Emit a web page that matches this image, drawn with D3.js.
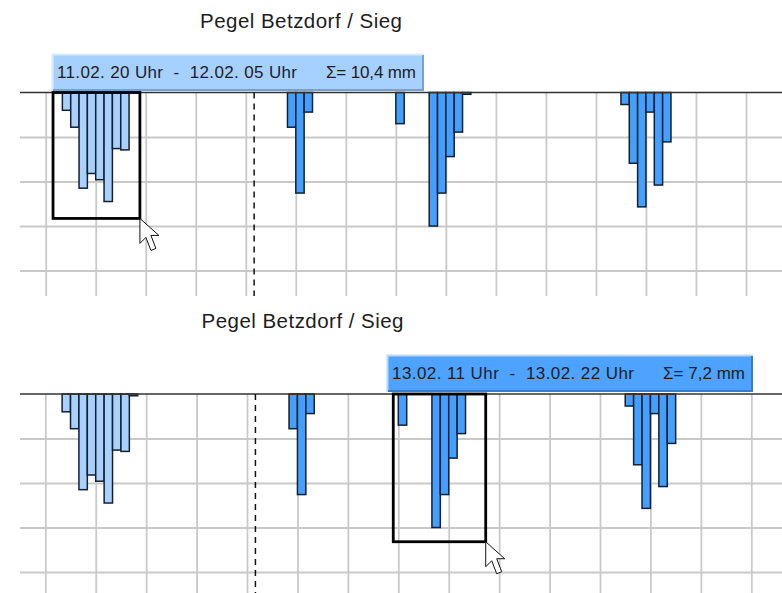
<!DOCTYPE html>
<meta charset="utf-8">
<style>
    html, body { margin: 0; background: #fff; }
    svg { display: block; }
    text { font-family: "Liberation Sans", Arial, sans-serif; fill: #1d1d1d; }
    .grid line { stroke: #c9c9c9; stroke-width: 1.8; }
    .grid path { display: none; }
    .bar { stroke: #16202b; stroke-width: 1.5; }
    .base { stroke: #333; stroke-width: 1.6; }
    .now { stroke: #111; stroke-width: 1.5; stroke-dasharray: 6 5; }
    .box { fill: none; stroke: #000; stroke-width: 2.8; }
    .cursor { fill: #fff; stroke: #111; stroke-width: 1; }
</style>
<svg width="782" height="593"></svg>
<script src="https://d3js.org/d3.v7.min.js"></script>
<script>

    // rain per hour (1 = one horizontal grid step)
    var rainHours = [0, 1, 2, 3, 4, 5, 6, 7, 8, 27, 28, 29, 40, 44, 45, 46, 47, 48, 67, 68, 69, 70, 71, 72];
    var rainValues = [0.40, 0.78, 2.15, 1.82, 1.96, 2.45, 1.26, 1.29, 0.04, 0.78, 2.26, 0.44, 0.70, 3.00, 2.26, 1.44, 0.89, 0.04, 0.27, 1.59, 2.57, 0.44, 2.08, 1.11];

    var title = "Pegel Betzdorf / Sieg";
    var gridHours = d3.range(-2, 83, 6);
    var gridLevels = [1, 2, 3, 4];
    var nowHour = 23;
    var paleHours = [0, 8];     // the first rain event stays pale in both views

    // one entry per screenshot
    var views = [
        { top: 92.5, xLeft: 45.7, xRight: 746, bottom: 296, titleX: 301, titleY: 28,
          sel: [-1.12, 9.3], selDepth: 2.83, hidden: 8, tipFill: "#a6d0ff", tipLight: "#d8ebff", tipDark: "#7f9fc4",
          tipX: 52, tipY: 54, tipW: 372, tipH: 37, textA: "11.02. 20 Uhr  -  12.02. 05 Uhr", lenA: 240,
          textB: "\u03a3= 10,4 mm", textBX: 326, lenB: 90 },
        { top: 394, xLeft: 45.3, xRight: 751.3, bottom: 593, titleX: 302.5, titleY: 328,
          sel: [39.4, 50.4], selDepth: 3.32, hidden: 48, tipFill: "#4da3ff", tipLight: "#b4d8ff", tipDark: "#3a7cc4",
          tipX: 387, tipY: 355, tipW: 366, tipH: 37, textA: "13.02. 11 Uhr  -  13.02. 22 Uhr", lenA: 242,
          textB: "\u03a3= 7,2 mm", textBX: 663, lenB: 82 }
    ];

    var svg = d3.select("svg");
    var rain = rainHours.map(function (h, i) { return { hour: h, value: rainValues[i] }; });

    views.forEach(function (v) {
        var g = svg.append("g").attr("transform", "translate(0," + v.top + ")");

        var x = d3.scaleLinear().domain([-2, 82]).range([v.xLeft, v.xRight]);
        var y = d3.scaleLinear().domain([0, 1]).range([0, 44.5]);
        var height = v.bottom - v.top;

        svg.append("text")
            .attr("x", v.titleX)
            .attr("y", v.titleY)
            .attr("text-anchor", "middle")
            .attr("font-size", 20.5)
            .attr("textLength", 202)
            .text(title);

        // vertical grid
        g.append("g")
            .attr("class", "grid")
            .call(d3.axisBottom(x).tickValues(gridHours).tickSize(height).tickFormat(""));

        // horizontal grid
        g.append("g")
            .attr("class", "grid")
            .attr("transform", "translate(20,0)")
            .call(d3.axisRight(y).tickValues(gridLevels).tickSize(762).tickFormat(""));

        // rain bars hang down from the top line
        g.selectAll(".bar")
            .data(rain.filter(function (d) { return d.hour !== v.hidden; }))
            .enter().append("rect")
            .attr("class", "bar")
            .attr("x", function (d) { return x(d.hour); })
            .attr("y", 0)
            .attr("width", function (d) { return x(d.hour + 1) - x(d.hour); })
            .attr("height", function (d) { return y(d.value); })
            .attr("fill", function (d) {
                return d.hour >= paleHours[0] && d.hour <= paleHours[1] ? "#a8d1ff" : "#459fff";
            });

        g.append("line")
            .attr("class", "base")
            .attr("x1", 20)
            .attr("x2", 782);

        g.append("line")
            .attr("class", "now")
            .attr("x1", x(nowHour))
            .attr("x2", x(nowHour))
            .attr("y2", height);

        // dragged selection
        g.append("rect")
            .attr("class", "box")
            .attr("x", x(v.sel[0]))
            .attr("y", 0)
            .attr("width", x(v.sel[1]) - x(v.sel[0]))
            .attr("height", y(v.selDepth));

        // mouse pointer at the corner of the selection
        g.append("path")
            .attr("class", "cursor")
            .attr("transform", "translate(" + x(v.sel[1]) + "," + y(v.selDepth) + ")")
            .attr("d", "M0,0 L0,25 L6,19 L11,32 L16,30 L11,17 L19,17 Z");

        // label above the selection
        var tip = svg.append("g").attr("transform", "translate(" + v.tipX + "," + v.tipY + ")");
        tip.append("rect")
            .attr("width", v.tipW)
            .attr("height", v.tipH)
            .attr("fill", v.tipFill);
        tip.append("path")
            .attr("d", "M0.5," + v.tipH + " V0.5 H" + v.tipW)
            .attr("fill", "none")
            .attr("stroke", v.tipLight)
            .attr("stroke-width", 2);
        tip.append("path")
            .attr("d", "M1," + (v.tipH - 1) + " H" + (v.tipW - 1) + " V1")
            .attr("fill", "none")
            .attr("stroke", v.tipDark)
            .attr("stroke-width", 2);
        tip.append("text")
            .attr("x", 5)
            .attr("y", 24)
            .attr("font-size", 17)
            .attr("textLength", v.lenA)
            .style("white-space", "pre")
            .text(v.textA);
        tip.append("text")
            .attr("x", v.textBX - v.tipX)
            .attr("y", 24)
            .attr("font-size", 17)
            .attr("textLength", v.lenB)
            .text(v.textB);
    });

</script>
